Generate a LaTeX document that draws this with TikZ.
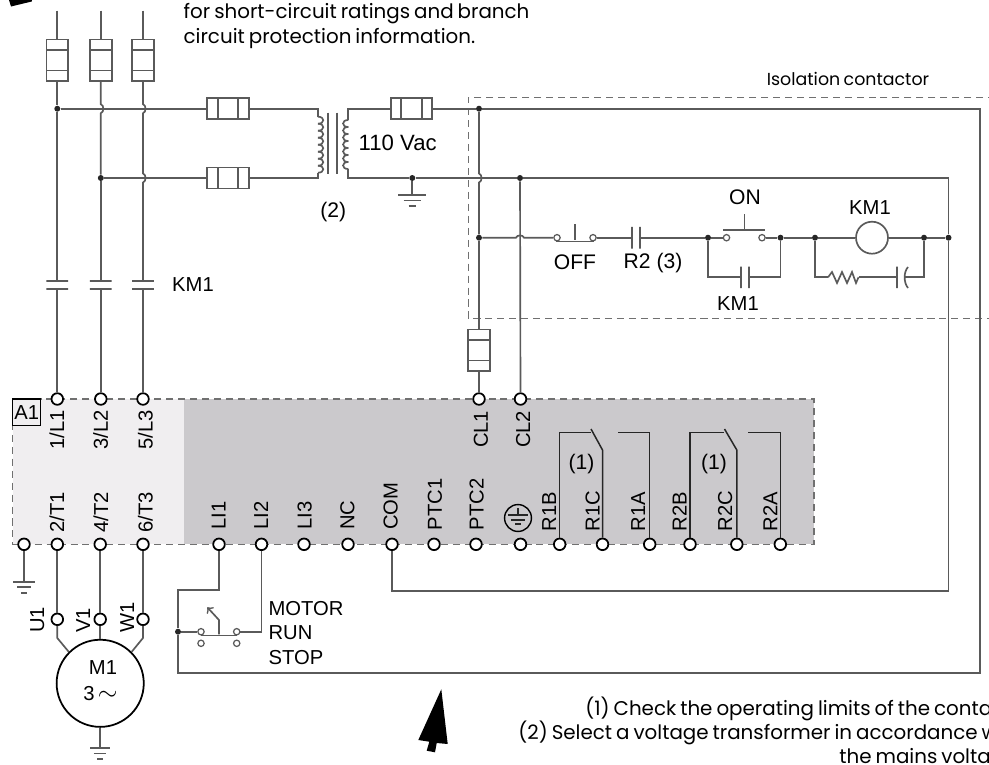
\documentclass[tikz,border=0pt]{standalone}
\usepackage{fontspec}
\setmainfont{Liberation Sans}
\newfontfamily\notefont[WordSpace=0.75]{Poppins}
\usepackage{tikz}
\usetikzlibrary{calc, positioning}
\definecolor{wirecol}{HTML}{5A5A5A}
\definecolor{dashcol}{HTML}{707070}
\definecolor{lightbox}{HTML}{F0EEF0}
\definecolor{darkbox}{HTML}{CBC9CC}
\tikzset{
	wire/.style={draw=wirecol, line width=.95pt},
	relay/.style={draw=black!85, line width=.85pt},
	dashbox/.style={draw=dashcol, line width=.9pt, dash pattern=on 4pt off 2.8pt},
	term/.style={circle, draw=black, line width=1pt, fill=white, minimum size=6.6pt, inner sep=0pt},
	cont/.style={circle, draw=wirecol, line width=.7pt, fill=white, minimum size=3.6pt, inner sep=0pt},
	dot/.style={circle, fill=black!85, minimum size=3.4pt, inner sep=0pt},
	fusev/.style={wire, minimum width=12.4pt, minimum height=23.7pt, inner sep=0pt,
		path picture={\draw[wire] ([yshift=-6pt]path picture bounding box.north west) -- ([yshift=-6pt]path picture bounding box.north east);
			\draw[wire] ([yshift=6pt]path picture bounding box.south west) -- ([yshift=6pt]path picture bounding box.south east);}},
	fuseh/.style={wire, minimum width=23.7pt, minimum height=11.9pt, inner sep=0pt,
		path picture={\draw[wire] ([xshift=6pt]path picture bounding box.north west) -- ([xshift=6pt]path picture bounding box.south west);
			\draw[wire] ([xshift=-6pt]path picture bounding box.north east) -- ([xshift=-6pt]path picture bounding box.south east);}},
	plateh/.style={wire, minimum width=12.3pt, minimum height=0pt, inner sep=0pt, outer sep=0pt},
	platev/.style={wire, minimum width=0pt, minimum height=12.3pt, inner sep=0pt, outer sep=0pt},
	bump/.style={bend left=75},
	lab/.style={font=\fontsize{12}{14}\selectfont, inner sep=0pt},
	sublab/.style={font=\fontsize{11.5}{13}\selectfont, inner sep=0pt},
	pin/.style={sublab, rotate=90, anchor=base west},
	note/.style={font=\notefont\fontsize{11.3}{13}\selectfont, inner sep=0pt, anchor=base west},
	earthsym/.pic={
		\draw[wire] (-14,0) -- (14,0);
		\draw[wire] (-8.7,5.5) -- (8.7,5.5);
		\draw[wire] (-3.8,11) -- (3.8,11);
	}
}
\begin{document}
\begin{tikzpicture}[x=0.02cm, y=-0.02cm]
		\useasboundingbox (0,0) rectangle (989,764);
		\fill[white] (0,0) rectangle (989,764);

		\fill[lightbox] (12.7,399) rectangle (184,544.3);
		\fill[darkbox] (184,399) rectangle (813.7,544.3);
		\draw[dashbox] (12.7,399) rectangle (813.7,544.3);
		\draw[dashbox] (995,97.3) -- (468.4,97.3) -- (468.4,318.3) -- (995,318.3);

		\fill[black] (9,0) -- (32,0) -- (31.7,1.5) -- (11,6.5) -- cycle;
		\fill[black] (441.3,689.3) -- (447.7,744) -- (436.7,743) -- (435,752.3) -- (426.7,750.7) -- (429.3,741.7) -- (418.3,740) -- cycle;

		\node[note] (n1) at (183.3,18) {for short-circuit ratings and branch};
		\node[note] (n2) at (183.3,43) {circuit protection information.};
		\node[note, font=\notefont\fontsize{9.9}{11}\selectfont, anchor=center] (iso) at (848,79) {Isolation contactor};
		\node[note] (n3) at (585,715) {(1) Check the operating limits of the conta};
		\node[note] (n4) at (518,739) {(2) Select a voltage transformer in accordance w};
		\node[note] (n5) at (839,763) {the mains volta};

		\node[fusev] (fa) at (57.3,60.2) {};
		\node[fusev] (fb) at (100.8,60.2) {};
		\node[fusev] (fc) at (143,60.2) {};
		\node[fuseh] (fd) at (228,108.7) {};
		\node[fuseh] (fe) at (228,178) {};
		\node[fuseh] (ff) at (411.5,108.7) {};
		\node[fusev] (fg) at (479,350.2) {};

		\coordinate (ta) at (57.3,10.7);
		\coordinate (tb) at (100.8,10.7);
		\coordinate (tc) at (143,10.7);

		\node[dot] (d1) at (57.3,108.7) {};
		\node[dot] (d2) at (100.8,178) {};
		\node[dot] (dtop) at (479,108.7) {};
		\node[dot] (dgnd) at (412.3,178) {};
		\node[dot] (dcl) at (520,178) {};
		\node[dot] (drung) at (479,237.7) {};
		\node[dot] (dsa) at (708,237.7) {};
		\node[dot] (dsb) at (780.5,237.7) {};
		\node[dot] (dca) at (815,237.7) {};
		\node[dot] (dcb) at (924,237.7) {};
		\node[dot] (dcc) at (948.5,237.7) {};
		\node[dot] (dstop) at (178,631.7) {};

		\node[plateh] (pa1) at (57.3,281) {};
		\node[plateh] (pa2) at (57.3,289) {};
		\node[plateh] (pb1) at (100.8,281) {};
		\node[plateh] (pb2) at (100.8,289) {};
		\node[plateh] (pc1) at (143,281) {};
		\node[plateh] (pc2) at (143,289) {};

		\node[term] (tL1) at (57.3,399) {};
		\node[term] (tL2) at (100.8,399) {};
		\node[term] (tL3) at (143,399) {};
		\node[term] (tCL1) at (479,399) {};
		\node[term] (tCL2) at (520.5,399) {};

		\node[term] (tG) at (24,544.3) {};
		\node[term] (tT1) at (57.3,544.3) {};
		\node[term] (tT2) at (100.2,544.3) {};
		\node[term] (tT3) at (143,544.3) {};
		\node[term] (tLI1) at (219,544.3) {};
		\node[term] (tLI2) at (261.5,544.3) {};
		\node[term] (tLI3) at (304,544.3) {};
		\node[term] (tNC) at (348,544.3) {};
		\node[term] (tCOM) at (392,544.3) {};
		\node[term] (tP1) at (434,544.3) {};
		\node[term] (tP2) at (476,544.3) {};
		\node[term] (tE) at (520.5,544.3) {};
		\node[term] (tR1B) at (559.7,544.3) {};
		\node[term] (tR1C) at (602.5,544.3) {};
		\node[term] (tR1A) at (649.7,544.3) {};
		\node[term] (tR2B) at (690,544.3) {};
		\node[term] (tR2C) at (736.8,544.3) {};
		\node[term] (tR2A) at (780.3,544.3) {};

		\node[term] (tU) at (57.3,619.3) {};
		\node[term] (tV) at (100.2,619.3) {};
		\node[term] (tW) at (143,619.3) {};
		\node[circle, draw=black, line width=1pt, minimum size=49.6pt, inner sep=0pt] (mot) at (100.2,683.3) {};

		\draw[wire] (ta) -- (fa);
		\draw[wire] (tb) -- (fb);
		\draw[wire] (tc) -- (fc);
		\draw[wire] (fa) -- (d1);
		\draw[wire] (d1) -- (pa1);
		\draw[wire] (pa2) -- (tL1);
		\draw[wire] (fb) -- (100.8,104.2) to[bump] (100.8,113.2) -- (d2);
		\draw[wire] (d2) -- (pb1);
		\draw[wire] (pb2) -- (tL2);
		\draw[wire] (fc) -- (143,104.2) to[bump] (143,113.2) -- (143,173.5) to[bump] (143,182.5) -- (pc1);
		\draw[wire] (pc2) -- (tL3);

		\coordinate (tpa) at (318,108.7);
		\coordinate (tpb) at (318,178);
		\coordinate (tsa) at (348.3,108.7);
		\coordinate (tsb) at (348.3,178);
		\draw[wire] (d1) -- (fd);
		\draw[wire] (fd) -- (tpa) -- (318,116.7);
		\draw[wire] (d2) -- (fe);
		\draw[wire] (fe) -- (tpb) -- (318,172.7);
		\foreach \k in {0,...,7}
			\draw[wire] ({318},{116.7+7*\k}) .. controls ({325},{116.7+7*\k}) and ({325},{123.7+7*\k}) .. ({318},{123.7+7*\k});
		\draw[wire] (328.3,112.7) -- (328.3,174);
		\draw[wire] (336.7,112.7) -- (336.7,174);
		\foreach \k in {0,...,6}
			\draw[wire] ({348.3},{120+7*\k}) .. controls ({341.3},{120+7*\k}) and ({341.3},{127+7*\k}) .. ({348.3},{127+7*\k});
		\draw[wire] (ff) -- (tsa) -- (348.3,120);
		\draw[wire] (dgnd) -- (tsb) -- (348.3,169);
		\draw[wire] (ff) -- (dtop);
		\coordinate (g2) at (412.3,195);
		\draw[wire] (dgnd) -- (g2);
		\pic at (g2) {earthsym};

		\coordinate (cbr) at (980,672.7);
		\coordinate (cret) at (178,672.7);
		\coordinate (cli) at (219,590);
		\coordinate (ccom) at (392,590.7);
		\draw[wire] (dtop) -| (cbr) -- (cret) -- (dstop);
		\draw[wire] (dstop) |- (cli) -- (tLI1);
		\draw[wire] (dgnd) -- (dcl);
		\draw[wire] (dcl) -| (dcc);
		\draw[wire] (dcc) |- (ccom) -- (tCOM);
		\draw[wire] (dcl) -- (tCL2);
		\draw[wire] (dtop) -- (479,173.5) to[bump] (479,182.5) -- (drung);
		\draw[wire] (drung) -- (fg);
		\draw[wire] (fg) -- (tCL1);

		\node[cont] (oa) at (557,237.7) {};
		\node[cont] (ob) at (593,237.7) {};
		\node[platev] (ra) at (632,237.7) {};
		\node[platev] (rb) at (640,237.7) {};
		\node[cont] (ona) at (726.5,237.7) {};
		\node[cont] (onb) at (762,237.7) {};
		\node[platev] (ka) at (741,277.3) {};
		\node[platev] (kb) at (749,277.3) {};
		\node[circle, wire, minimum size=18.2pt, inner sep=0pt] (coil) at (872,237.7) {};
		\node[platev] (ca) at (897,277.3) {};
		\coordinate (cb) at (904.5,277.3);
		\coordinate (rzl) at (828,277.3);
		\coordinate (rzr) at (858.5,277.3);

		\draw[wire] (drung) -- (516,237.7) to[bump] (524,237.7) -- (oa);
		\draw[wire] ([xshift=-.6pt]oa.south) -- ([xshift=.6pt]ob.south);
		\draw[wire] (575,224) -- (575,240.3);
		\draw[wire] (ob) -- (ra);
		\draw[wire] (rb) -- (dsa);
		\draw[wire] (dsa) -- (ona);
		\draw[wire] (onb) -- (dsb);
		\draw[wire] (723,230) -- (765,230);
		\draw[wire] (744.4,214) -- (744.4,230);
		\draw[wire] (dsa) |- (ka);
		\draw[wire] (kb) -| (dsb);
		\draw[wire] (dsb) -- (dca);
		\draw[wire] (dca) -- (coil);
		\draw[wire] (coil) -- (dcb);
		\draw[wire] (dcb) -- (dcc);
		\draw[wire] (dca) |- (rzl);
		\draw[wire] (rzl) -- (832,272) -- (837,283) -- (842,272) -- (847,283) -- (852,272) -- (856,283) -- (rzr);
		\draw[wire] (rzr) -- (ca);
		\draw[wire] (908,267) .. controls (903.5,272) and (903.5,282.5) .. (908,288);
		\draw[wire] (cb) -| (dcb);

		\coordinate (sw1) at (590.5,432.7);
		\coordinate (sw2) at (617.7,432.7);
		\coordinate (sw3) at (724,432.7);
		\coordinate (sw4) at (748.4,432.7);
		\draw[relay] (tR1B) |- (sw1);
		\draw[relay] (tR1C) -- (602.5,450) -- (591,429);
		\draw[relay] (tR1A) |- (sw2);
		\draw[relay] (tR2B) |- (sw3);
		\draw[relay] (tR2C) -- (736.8,450) -- (724.5,429);
		\draw[relay] (tR2A) |- (sw4);

		\node[cont] (sa) at (201,631.7) {};
		\node[cont] (sb) at (236.7,631.7) {};
		\node[cont] (sc) at (201,643.3) {};
		\node[cont] (sd) at (236.7,643.3) {};
		\coordinate (csb) at (261.5,631.7);
		\draw[wire] (dstop) -- (sa);
		\draw[wire] (sb) -- (csb) -- (tLI2);
		\draw[wire] (sa.south) -- (sb.south);
		\draw[wire, ->] (219,634.3) -- (219,620) -- (207.3,607.3);

		\coordinate (g1) at (24,581.7);
		\coordinate (g3) at (100.2,748);
		\coordinate (cu) at (57.3,638);
		\coordinate (cw) at (143,638);
		\draw[wire] (tG) -- (g1);
		\pic[xscale=.78] at (g1) {earthsym};
		\draw[wire] (tT1) -- (tU);
		\draw[wire] (tT2) -- (tV);
		\draw[wire] (tT3) -- (tW);
		\draw[wire] (tU) -- (cu) -- (mot.135);
		\draw[wire] (tV) -- (mot.north);
		\draw[wire] (tW) -- (cw) -- (mot.45);
		\draw[wire] (mot.south) -- (g3);
		\pic[xscale=.72] at (g3) {earthsym};

		\node[circle, draw=black, line width=.8pt, minimum size=15.3pt, inner sep=0pt] (esym) at (518,518) {};
		\draw[relay] (518,508) -- (518,515);
		\draw[relay] (508,515) -- (528,515);
		\draw[relay] (511,520) -- (525,520);
		\draw[relay] (515,524) -- (521,524);

		\node[sublab, draw=black, line width=.8pt, minimum width=15.9pt, minimum height=15.1pt] (a1) at (26.7,412.3) {A1};
		\node[pin] (lL1) at (64,450) {1/L1};
		\node[pin] (lL2) at (107.8,450) {3/L2};
		\node[pin] (lL3) at (152.5,450) {5/L3};
		\node[pin] (lT1) at (64,533) {2/T1};
		\node[pin] (lT2) at (108,533) {4/T2};
		\node[pin] (lT3) at (152.5,533) {6/T3};
		\node[pin] (lCL1) at (487.9,448.3) {CL1};
		\node[pin] (lCL2) at (530,448.3) {CL2};
		\node[pin] (lLI1) at (225.7,530) {LI1};
		\node[pin] (lLI2) at (268,530) {LI2};
		\node[pin] (lLI3) at (311.7,530) {LI3};
		\node[pin] (lNC) at (354.3,530) {NC};
		\node[pin] (lCOM) at (397.7,530) {COM};
		\node[pin] (lP1) at (441.8,530.7) {PTC1};
		\node[pin] (lP2) at (483.5,530.7) {PTC2};
		\node[pin] (lR1B) at (556,531.7) {R1B};
		\node[pin] (lR1C) at (599.6,531.7) {R1C};
		\node[pin] (lR1A) at (645,531.7) {R1A};
		\node[pin] (lR2B) at (686.7,531.7) {R2B};
		\node[pin] (lR2C) at (732,531.7) {R2C};
		\node[pin] (lR2A) at (777.4,531.7) {R2A};
		\node[pin] (lU) at (44,633) {U1};
		\node[pin] (lV) at (90,633) {V1};
		\node[pin] (lW) at (134,633) {W1};

		\node[lab] (lr1) at (581.5,464) {(1)};
		\node[lab] (lr2) at (714,464) {(1)};
		\node[sublab] (lk) at (193,285) {KM1};
		\node[lab] (lt) at (333.3,212) {(2)};
		\node[lab, font=\fontsize{12.6}{14}\selectfont] (lv) at (397.7,143.3) {110 Vac};
		\node[lab] (lof) at (575,262) {OFF};
		\node[lab] (lr3) at (653,263) {R2 (3)};
		\node[lab] (lon) at (745,197.7) {ON};
		\node[sublab] (lk1) at (870,208) {KM1};
		\node[sublab] (lk2) at (738,304) {KM1};
		\node[sublab, anchor=west] (lmo) at (268.3,609) {MOTOR};
		\node[sublab, anchor=west] (lru) at (268.3,633) {RUN};
		\node[sublab, anchor=west] (lst) at (268.3,657.7) {STOP};
		\node[sublab] (lm1) at (103,668) {M1};
		\node[sublab] (lm3) at (100.5,694) {3\,{\Large$\sim$}};

	\end{tikzpicture}
\end{document}
